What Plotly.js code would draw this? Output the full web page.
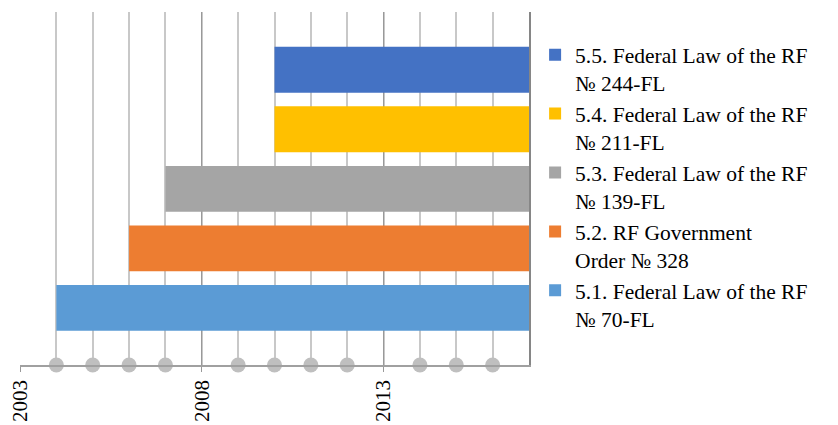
<!DOCTYPE html>
<html>
<head>
<meta charset="utf-8">
<script src="https://cdn.plot.ly/plotly-3.0.1.min.js"></script>
<style>html,body{margin:0;padding:0;background:#fff;}#chart{width:838px;height:425px;}</style>
</head>
<body>
<div id="chart"></div>
<script>
// Data (top of legend first)
const labels = [
  "5.5. Federal Law of the RF<br>№ 244-FL",
  "5.4. Federal Law of the RF<br>№ 211-FL",
  "5.3. Federal Law of the RF<br>№ 139-FL",
  "5.2. RF Government<br>Order № 328",
  "5.1. Federal Law of the RF<br>№ 70-FL"
];
const startYears = [2010, 2010, 2007, 2006, 2004];
const endYear = 2017;
const rowIndex = [4, 3, 2, 1, 0];
const colors = ["#4472C4", "#FFC000", "#A5A5A5", "#ED7D31", "#5B9BD5"];
const dotYears = [2004, 2005, 2006, 2007, 2009, 2010, 2011, 2012, 2014, 2015, 2016];
const xTickVals = [2003, 2008, 2013];
const xTickText = ["2003", "2008", "2013"];

const yMin = -0.96, yMax = 4.97;
const serif = "'Liberation Serif', 'Times New Roman', Times, 'DejaVu Serif', serif";
const traces = [];
for (let i = 0; i < labels.length; i++) {
  traces.push({
    type: 'bar', orientation: 'h',
    y: [rowIndex[i]],
    x: [endYear - startYears[i]],
    base: [startYears[i]],
    width: 0.77,
    name: labels[i],
    marker: {color: colors[i]},
    hoverinfo: 'skip'
  });
}
traces.push({
  type: 'scatter', mode: 'markers',
  x: dotYears, y: dotYears.map(() => yMin),
  marker: {color: '#BFBFBF', size: 15},
  cliponaxis: false, showlegend: false, hoverinfo: 'skip'
});

const layout = {
  width: 838, height: 425,
  margin: {l: 20, r: 309, t: 12, b: 60},
  paper_bgcolor: '#fff', plot_bgcolor: '#fff',
  font: {family: serif, size: 21, color: '#000'},
  showlegend: true,
  legend: {x: 1.012, xanchor: 'left', y: 0.937, yanchor: 'top', valign: 'top',
           font: {family: serif, size: 21.5, color: '#000'}, tracegroupgap: 0, bgcolor: 'rgba(0,0,0,0)'},
  xaxis: {
    range: [2003, endYear], tickvals: xTickVals, ticktext: xTickText,
    tickangle: -90, ticks: 'outside', ticklen: 5, tickcolor: '#999',
    showgrid: true, gridcolor: '#999', gridwidth: 1,
    minor: {dtick: 1, tick0: 2003, showgrid: true, gridcolor: '#C8C8C8', gridwidth: 2, ticks: ''},
    showline: true, linecolor: '#A0A0A0', linewidth: 1.5,
    zeroline: false, tickfont: {family: serif, size: 21}
  },
  yaxis: {
    range: [yMin, yMax], side: 'right', showgrid: false, zeroline: false,
    showline: true, linecolor: '#868686', linewidth: 2,
    tickvals: [yMax], ticktext: [''], ticks: 'inside', ticklen: 9, tickcolor: '#868686', tickwidth: 2
  }
};

Plotly.newPlot('chart', traces, layout, {staticPlot: true});
</script>
</body>
</html>
